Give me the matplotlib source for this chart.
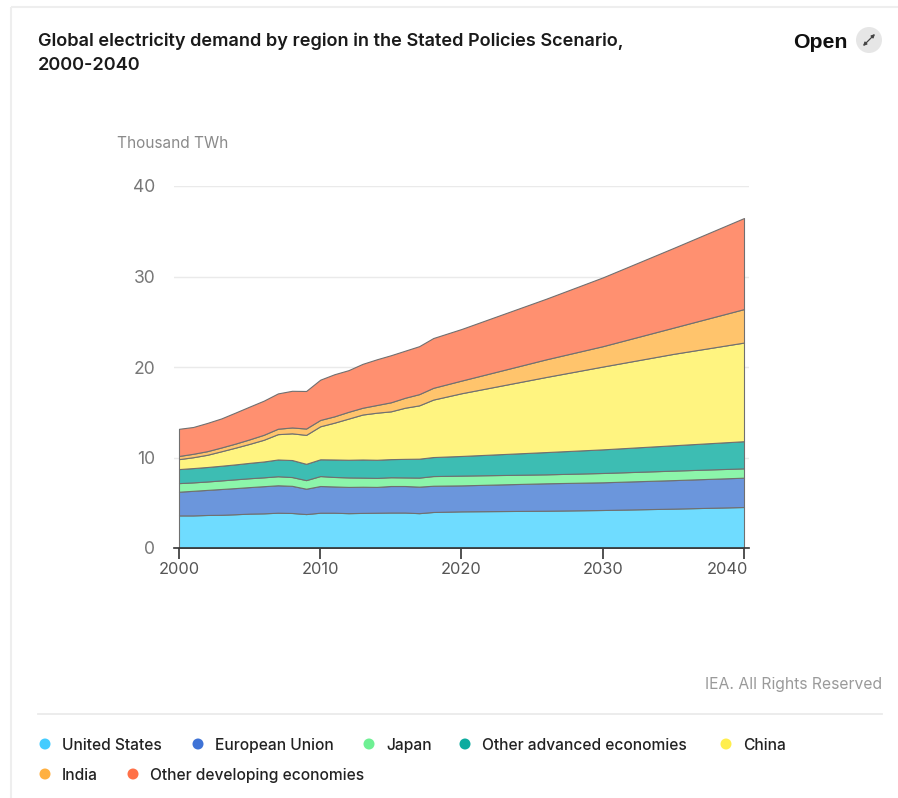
import matplotlib
matplotlib.use('Agg')
import matplotlib.pyplot as plt
from matplotlib.patches import Circle, Rectangle
from matplotlib.transforms import ScaledTranslation

plt.rcParams['font.family'] = ['Inter', 'DejaVu Sans']

years = [2000, 2001, 2002, 2003, 2004, 2005, 2006, 2007, 2008, 2009, 2010, 2011, 2012,
         2013, 2014, 2015, 2016, 2017, 2018, 2020, 2026, 2030, 2035, 2040]
united_states = [3.6, 3.6, 3.65, 3.67, 3.73, 3.8, 3.83, 3.9, 3.87, 3.75, 3.9, 3.9, 3.85,
                 3.88, 3.9, 3.92, 3.92, 3.85, 3.98, 4.05, 4.12, 4.2, 4.35, 4.53]
european_union = [2.62, 2.72, 2.77, 2.85, 2.89, 2.93, 3.0, 3.03, 3.0, 2.8, 2.95, 2.9, 2.9,
                  2.89, 2.85, 2.93, 2.93, 2.93, 2.9, 2.87, 3.03, 3.06, 3.15, 3.24]
japan = [0.95, 0.93, 0.93, 0.95, 0.97, 0.98, 0.98, 1.0, 0.97, 0.95, 1.1, 1.05, 1.05,
         1.01, 1.0, 0.97, 0.95, 1.0, 1.07, 1.08, 0.99, 1.03, 1.05, 1.03]
other_advanced = [1.55, 1.58, 1.6, 1.62, 1.65, 1.7, 1.75, 1.85, 1.88, 1.8, 1.85, 1.93, 1.95,
                  2.0, 2.0, 2.0, 2.05, 2.09, 2.1, 2.17, 2.46, 2.61, 2.8, 3.0]
china = [1.1, 1.2, 1.35, 1.6, 1.85, 2.1, 2.4, 2.8, 2.95, 3.2, 3.65, 4.07, 4.55,
         4.97, 5.2, 5.28, 5.65, 5.89, 6.35, 6.93, 8.3, 9.15, 10.1, 10.9]
india = [0.35, 0.38, 0.4, 0.42, 0.45, 0.5, 0.55, 0.6, 0.65, 0.7, 0.7, 0.7, 0.75,
         0.75, 0.85, 1.0, 1.1, 1.24, 1.3, 1.4, 1.95, 2.25, 2.9, 3.7]
other_developing = [3.0, 2.96, 3.12, 3.21, 3.43, 3.62, 3.77, 3.9, 4.05, 4.15, 4.45, 4.65, 4.6,
                    4.85, 5.05, 5.2, 5.2, 5.3, 5.5, 5.7, 6.7, 7.6, 8.8, 10.06]

names = ['United States', 'European Union', 'Japan', 'Other advanced economies', 'China',
         'India', 'Other developing economies']
fill_colors = ['#6FDCFF', '#6B96DC', '#8CF5AA', '#3DBDB3', '#FFF480', '#FFC46C', '#FF9070']
dot_colors = ['#44CCFF', '#3F73D6', '#6FF094', '#0CAB9F', '#FFEE4D', '#FFB040', '#FF7148']
y_ticks = [0, 10, 20, 30, 40]
x_ticks = [2000, 2010, 2020, 2030, 2040]

W, H = 898, 798
fig = plt.figure(figsize=(W / 100, H / 100), dpi=100, facecolor='white')

# page overlay in pixel coordinates
bg = fig.add_axes([0, 0, 1, 1])
bg.set_xlim(0, W)
bg.set_ylim(H, 0)
bg.axis('off')
bg.add_patch(Rectangle((11, 7), W, H, fill=False, ec='#EEEEEE', lw=1.5))
bg.plot([38, 882], [714, 714], color='#EBEBEB', lw=1.3)
bg.add_patch(Circle((869, 40), 13, color='#E6E6E6', lw=0))
bg.annotate('', xy=(875, 34), xytext=(863, 46),
            arrowprops=dict(arrowstyle='<|-|>', color='#444444', lw=0.9, mutation_scale=5,
                            shrinkA=0, shrinkB=0))

title_color = '#1A1A1A'
bg.text(38, 41, 'Global electricity demand by region in the Stated Policies Scenario,',
        fontsize=13.05, fontweight='semibold', color=title_color, va='center')
bg.text(38, 66, '2000-2040', fontsize=13.05, fontweight='semibold', color=title_color, va='center')
bg.text(793, 42, 'Open', fontsize=15.3, fontweight='bold', color='#111111', va='center',
        family=['Liberation Sans', 'DejaVu Sans'])
bg.text(117, 144, 'Thousand TWh', fontsize=11.1, color='#8A8A8A', va='center')
bg.text(882, 684, 'IEA. All Rights Reserved', fontsize=11.3, color='#9A9A9A', va='center', ha='right')

legend_pos = [(45, 744), (198, 744), (369, 744), (465, 744), (726, 744), (45, 774), (133, 774)]
for name, color, (lx, ly) in zip(names, dot_colors, legend_pos):
    bg.add_patch(Circle((lx, ly), 5.5, color=color, lw=0))
    bg.text(lx + 17, ly + 6, name, fontsize=11.2, fontweight='medium', color='#222222', va='baseline')

# chart, spans 174..749 px across and 186..548 px down
ax = fig.add_axes([174 / W, 1 - 548 / H, (749 - 174) / W, (548 - 186) / H])
ax.patch.set_alpha(0)
px_per_year = (744 - 179) / 40
ax.set_xlim(2000 - 5 / px_per_year, 2040 + 5 / px_per_year)
ax.set_ylim(0, 40)
ax.stackplot(years, united_states, european_union, japan, other_advanced, china, india,
             other_developing, colors=fill_colors, edgecolor='#707070', linewidth=0.8, zorder=3)
ax.set_yticks(y_ticks)
ax.set_xticks(x_ticks)
ax.grid(axis='y', color='#EAEAEA', lw=1)
ax.set_axisbelow(True)
for side in ['top', 'right', 'left']:
    ax.spines[side].set_visible(False)
ax.spines['bottom'].set_color('#333333')
ax.spines['bottom'].set_linewidth(1.2)
ax.spines['bottom'].set_zorder(5)
ax.tick_params(axis='y', length=0, pad=13.5, labelsize=12.6, labelcolor='#777777')
ax.tick_params(axis='x', length=8, width=1.2, color='#333333', pad=2, labelsize=11.8,
               labelcolor='#555555')

# last label sits flush with the end of the axis
last = ax.get_xticklabels()[-1]
last.set_ha('right')
last.set_transform(last.get_transform() + ScaledTranslation(4 / 100, 0, fig.dpi_scale_trans))

fig.savefig('out.png', dpi=100)
